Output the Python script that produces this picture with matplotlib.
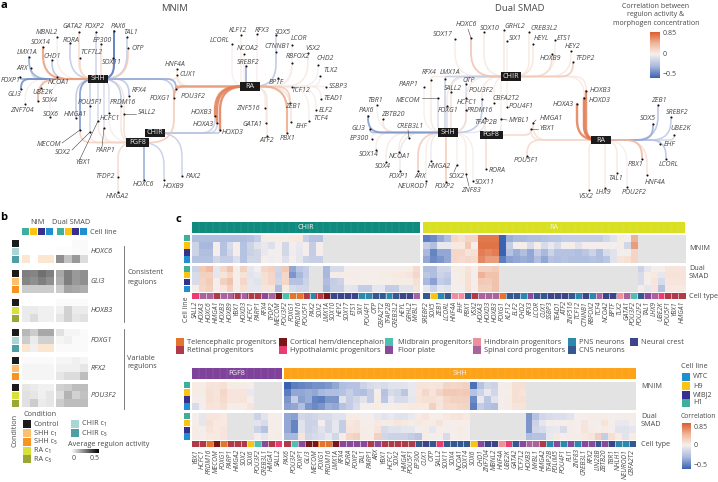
import numpy as np
import matplotlib
matplotlib.use('Agg')
import matplotlib.pyplot as plt
from matplotlib.colors import LinearSegmentedColormap, TwoSlopeNorm, ListedColormap
from matplotlib.patches import Rectangle, PathPatch
from matplotlib.path import Path

plt.rcParams['font.family'] = ['Open Sans', 'DejaVu Sans']
n = np.nan

# ---- panel a: hubs and genes, gene: (dot x, dot y, label x, label y)
mnim_hubs = {"SHH": (98, 79), "RA": (250, 86.5), "CHIR": (154.5, 133), "FGF8": (137.5, 142.5)}
mnim_nodes = {
    "MBNL2": (57, 37, 47, 32), "GATA2": (79, 32, 72, 27), "FOXP2": (96, 32, 95, 27), "PAX6": (114, 31, 118, 26),
    "TAL1": (127, 37, 131, 33), "SOX14": (43, 47, 41, 42), "RORA": (70, 43, 71, 40), "EP300": (101, 44, 102, 41),
    "OTP": (128, 48, 138, 48), "CHD1": (52, 60, 52, 56), "TCF7L2": (80, 58, 91, 53), "LMX1A": (29, 57, 27, 53),
    "SOX11": (113, 58, 112, 62), "ARX": (31, 68, 22, 68), "FOXP1": (20, 77, 11, 81), "GLI3": (21, 89, 14, 94),
    "NCOA1": (57, 77, 59, 82), "UBE2K": (41, 88, 43, 93), "SOX4": (38, 101, 50, 101), "ZNF704": (25, 104, 22, 110),
    "SOX6": (50, 117, 51, 114), "HMGA1": (76, 118, 75, 114), "POU5F1": (90, 106, 90, 102), "MECOM": (80, 130, 49, 144),
    "SOX2": (90, 132, 63, 152), "YBX1": (98, 121, 83, 162), "PARP1": (104, 128, 106, 150), "HCFC1": (109, 113, 110, 118),
    "PRDM16": (121, 106, 123, 102), "RFX4": (129, 96, 139, 91), "SALL2": (124, 114, 147, 113),
    "HNF4A": (177, 69, 175, 64), "CUX1": (177, 75, 188, 74), "FOXG1": (174, 98, 160, 99), "POU3F2": (176, 89, 193, 96),
    "HOXB3": (215, 116, 201, 112), "HOXA3": (217, 123, 203, 124), "HOXD3": (220, 130, 233, 133),
    "KLF12": (241, 35, 238, 31), "RFX3": (257, 34, 262, 30), "SOX5": (276, 35, 283, 32), "LCORL": (232, 44, 220, 41),
    "NCOA2": (244, 54, 248, 49), "CTNNB1": (276, 52, 277, 47), "SREBF2": (246, 66, 248, 62), "BPTF": (278, 78, 276, 83),
    "ZNF516": (265, 108, 248, 109), "GATA1": (266, 123, 252, 124), "ATF2": (267, 136, 267, 140), "PBX1": (287, 133, 288, 139),
    "ZEB1": (290, 103, 293, 107), "EHF": (291, 122, 302, 126), "TCF12": (292, 87, 301, 91), "LCOR": (292, 45, 299, 39),
    "RBFOX2": (292, 63, 298, 57), "VSX2": (308, 53, 313, 48), "CHD2": (318, 65, 325, 59), "TLX2": (320, 76, 331, 71),
    "SSBP3": (326, 87, 338, 86), "TEAD1": (321, 99, 333, 99), "ELF2": (316, 110, 326, 111), "TCF4": (309, 121, 321, 119),
    "TFDP2": (118, 177, 105, 177), "HMGA2": (118, 192, 117, 197), "HOXC6": (144, 180, 143, 184),
    "HOXB9": (164, 180, 173, 186), "PAX2": (182, 176, 193, 176),
}
mnim_shh = {"MBNL2": .05, "GATA2": .2, "FOXP2": -.15, "PAX6": -.45, "TAL1": -.18, "SOX14": .55, "RORA": -.18, "EP300": .2,
            "OTP": .28, "CHD1": -.22, "TCF7L2": .18, "LMX1A": -.3, "SOX11": .12, "ARX": -.12, "FOXP1": -.3, "GLI3": -.38,
            "NCOA1": .3, "UBE2K": .05, "SOX4": .45, "ZNF704": .03, "SOX6": .03, "HMGA1": -.18, "MECOM": -.35,
            "POU5F1": -.12, "SOX2": -.12, "YBX1": -.12, "PARP1": -.1, "HCFC1": -.08, "PRDM16": -.2, "RFX4": -.2,
            "SALL2": .12, "FOXG1": -.2, "POU3F2": -.3, "CUX1": .1}
mnim_fgf8 = {"MECOM": .25, "SOX2": .12, "YBX1": .1, "PARP1": .08, "HCFC1": .06, "PRDM16": .12, "SALL2": .18, "FOXG1": .3,
             "TFDP2": .12, "HMGA2": .15, "HOXC6": -.3, "HOXB9": -.15}
mnim_chir = {"HOXB3": -.15, "HOXA3": -.15, "HOXD3": -.2, "PAX2": -.15}
mnim_ra = {"HOXB3": .7, "HOXA3": .7, "HOXD3": .7, "POU3F2": .55, "FOXG1": .5, "HNF4A": .1, "CUX1": .1, "KLF12": .05,
           "RFX3": .03, "SOX5": -.15, "LCORL": .03, "NCOA2": .03, "CTNNB1": -.12, "SREBF2": -.3, "BPTF": .05, "ZNF516": .03,
           "GATA1": .03, "ATF2": .12, "PBX1": .5, "ZEB1": .3, "EHF": .15, "TCF12": .08, "LCOR": .03, "RBFOX2": .04,
           "VSX2": .1, "CHD2": .03, "TLX2": .03, "SSBP3": .04, "TEAD1": .05, "ELF2": .05, "TCF4": .05}
mnim_leaders = {"MECOM": (62, 143), "SOX2": (72, 150), "YBX1": (80, 159), "PARP1": (102, 147), "SALL2": (136, 114)}

dual_hubs = {"CHIR": (510.5, 76.5), "SHH": (447.5, 132.5), "FGF8": (491, 135), "RA": (600.5, 140)}
dual_nodes = {
    "SOX17": (455, 39, 443, 35), "HOXC6": (471, 38, 466, 25), "SOX10": (484, 32, 490, 28), "GRHL2": (504, 30, 515, 26),
    "SIX1": (507, 41, 515, 39), "CREB3L2": (529, 32, 544, 28), "HEYL": (533, 44, 541, 39), "ETS1": (555, 40, 564, 38),
    "HOXB9": (552, 54, 550, 59), "HEY2": (571, 51, 573, 46), "TFDP2": (573, 62, 585, 58), "RFX4": (431, 80, 429, 73),
    "LMX1A": (445, 79, 450, 72), "PARP1": (424, 87, 409, 85), "OTP": (466, 84, 469, 80), "SALL2": (451, 92, 453, 88),
    "POU3F2": (482, 99, 481, 91), "MECOM": (438, 98, 408, 100), "HCFC1": (466, 98, 467, 103), "CBFA2T2": (494, 103, 506, 99),
    "POU4F1": (507, 107, 521, 106), "FOXG1": (447, 106, 448, 111), "PRDM16": (466, 110, 480, 111), "TFAP2B": (485, 118, 486, 122),
    "MYBL1": (501, 119, 519, 120), "HMGA1": (533, 123, 551, 119), "YBX1": (531, 129, 547, 129), "HOXB3": (586, 91, 600, 90),
    "HOXD3": (584, 98, 600, 100), "HOXA3": (577, 104, 563, 104), "TBR1": (377, 105, 375, 100), "PAX6": (368, 116, 366, 111),
    "ZBTB20": (383, 119, 393, 114), "CREB3L1": (409, 138, 410, 126), "GLI3": (370, 129, 358, 128), "EP300": (372, 139, 359, 139),
    "SOX14": (376, 150, 369, 155), "NCOA1": (399, 152, 400, 156), "SOX4": (386, 162, 383, 167), "HMGA2": (431, 161, 439, 166),
    "SOX2": (457, 165, 457, 177), "FOXP1": (400, 171, 399, 176), "ARX": (418, 171, 420, 176), "NEUROD1": (426, 181, 413, 187),
    "FOXP2": (446, 182, 445, 187), "ZNF83": (466, 174, 471, 191), "SOX11": (473, 181, 485, 183), "RORA": (486, 169, 497, 171),
    "POU5F1": (527, 156, 526, 161), "VSX2": (589, 190, 586, 196), "LHX9": (605, 188, 604, 192), "TAL1": (617, 173, 616, 178),
    "POU2F2": (627, 187, 634, 192), "PBX1": (642, 159, 636, 164), "HNF4A": (647, 175, 655, 182), "LCORL": (666, 159, 669, 164),
    "EHF": (660, 144, 670, 144), "UBE2K": (674, 135, 681, 129), "SOX5": (653, 124, 648, 119), "SREBF2": (671, 117, 677, 112),
    "ZEB1": (658, 105, 659, 100),
}
dual_chir = {"SOX17": .08, "HOXC6": .35, "SOX10": .1, "GRHL2": .1, "SIX1": .03, "CREB3L2": .1, "HEYL": .12, "ETS1": .05,
             "HOXB9": .2, "HEY2": .1, "TFDP2": .3, "RFX4": .1, "LMX1A": -.15, "OTP": -.12, "SALL2": -.1, "POU3F2": .1,
             "HOXB3": .1, "HOXD3": .08, "CBFA2T2": .03, "POU4F1": .03, "PRDM16": .1, "FOXG1": .1, "MYBL1": .03}
dual_shh = {"RFX4": .1, "LMX1A": -.15, "PARP1": .04, "OTP": -.1, "SALL2": .15, "POU3F2": -.2, "MECOM": -.1, "HCFC1": .12,
            "FOXG1": -.1, "PRDM16": .15, "TFAP2B": -.05, "TBR1": .04, "PAX6": -.35, "ZBTB20": .15, "CREB3L1": .03,
            "GLI3": -.25, "EP300": .02, "SOX14": .08, "NCOA1": .1, "SOX4": .08, "HMGA2": -.03, "SOX2": .05, "FOXP1": -.04,
            "ARX": .3, "NEUROD1": .05, "FOXP2": .3, "ZNF83": .08, "SOX11": .05}
dual_fgf8 = {"HMGA1": .15, "YBX1": .15, "MYBL1": -.03, "RORA": .2, "TFAP2B": .1}
dual_ra = {"HMGA1": .15, "YBX1": .15, "POU5F1": .2, "HOXB3": .7, "HOXD3": .75, "HOXA3": .7, "VSX2": .1, "LHX9": .08,
           "TAL1": .1, "POU2F2": .03, "PBX1": .4, "HNF4A": .15, "LCORL": -.2, "EHF": -.1, "UBE2K": -.12, "SOX5": -.3,
           "SREBF2": -.18, "ZEB1": -.22}
dual_leaders = {"MECOM": (422, 98), "HOXC6": (468, 29), "CREB3L1": (408, 130), "SOX2": (454, 172), "ZNF83": (469, 186),
                "MYBL1": (507, 120), "HMGA1": (536, 120), "YBX1": (538, 129)}

# ---- panel b: average regulon activity, rows are conditions, columns cell lines
b_genes = ["HOXC6", "GLI3", "HOXB3", "FOXG1", "RFX2", "POU3F2"]
b_nim = [
    [[0, 0, 0, 0], [0, 0, 0, 0], [n, 0, n, n]],
    [[.25, .24, .28, .25], [.24, .22, .25, .22], [.1, .1, .1, .1]],
    [[0, 0, 0, 0], [.04, .04, .03, .03], [.04, .07, .03, .03]],
    [[.14, .1, .17, .17], [.1, .04, .09, .09], [n, .03, n, n]],
    [[.01, .01, .01, .01], [.02, .02, .02, .02], [.02, .02, .02, .02]],
    [[.05, .04, .03, .03], [.06, .05, .03, .05], [.06, .1, .04, .05]],
]
b_dual = [
    [[0, 0, .01, .01], [.005, .005, .01, .01], [.22, .12, .2, .07]],
    [[.17, .25, .2, .22], [.16, .25, .2, .22], [.1, .18, .17, .16]],
    [[.01, .01, .01, .01], [.03, .09, .04, .04], [.05, .09, .05, .06]],
    [[.06, .02, .02, .01], [.02, .03, .01, .01], [.01, .01, .01, .01]],
    [[.02, .02, .03, .02], [.03, .03, .03, .05], [.05, .07, .07, .13]],
    [[.09, .1, .13, .13], [.07, .15, .09, .12], [.1, .13, .13, .13]],
]
chir_strip = ["#1c1a1b", "#a9d6d4", "#4f9ea5"]
shh_strip = ["#1c1a1b", "#fcbf6e", "#f7931e"]
ra_strip = ["#1c1a1b", "#d8e03c", "#9aa833"]
b_strips = [chir_strip, shh_strip, ra_strip, chir_strip, shh_strip, ra_strip]

# ---- panel c: correlation per regulon
chir_genes = ["SALL2", "HOXA3", "HOXC6", "HMGA1", "HOXB3", "HOXB9", "YBX1", "HOXD3", "HCFC1", "PARP1", "RFX4", "TFDP2",
              "MECOM", "POU3F2", "FOXG1", "PRDM16", "POU5F1", "PAX2", "SOX2", "LMX1A", "SOX10", "HEY2", "SOX17", "ETS1",
              "SIX1", "POU4F1", "OTP", "CBFA2T2", "TFAP2B", "CREB3L2", "HEYL", "GRHL2", "MYBL1"]
chir_types = "YSSRSSRSRRFSCMTTRPRCEEEEPPNNPNEES"
chir_mnim = [
    [-.22, -.22, -.22, -.22, -.22, -.22, -.22, -.22, -.2, -.15, .05, .05, .05, .05, .07, .08, -.14, -.2, -.2] + [n] * 14,
    [-.12, -.25, -.25, .02, -.2, -.08, .02, -.2, -.12, -.05, -.02, -.06, .02, -.1, .02, -.02, .03, -.15, .03] + [n] * 14,
    [-.12, -.22, -.22, .02, -.2, -.1, .02, -.2, -.13, -.1, -.02, .01, .01, -.1, -.01, -.03, .03, -.15, .03] + [n] * 14,
    [-.2, -.2, -.2, -.1, -.15, -.15, -.06, -.2, -.1, -.1, .02, -.01, .02, -.06, .03, -.03, -.12, -.14, -.14] + [n] * 14,
]
chir_dual = [
    [-.12, .3, .4, -.03, .2, .35, .03, .25, -.03, .01, .2, .25, -.1, .3, -.3, -.18, -.15, n, n, -.25, -.08, -.08, .02, .02, .02, .02, .02, .02, .02, .03, .03, .05, .18],
    [-.08, .25, .25, -.03, .12, .2, .03, .13, -.04, -.02, .15, .2, -.12, .2, -.35, -.25, -.15, n, n, -.25, .04, .04, .04, .04, .03, .03, .03, .05, .05, .08, .08, .1, .2],
    [-.08, .22, .28, .02, .25, .35, .03, .2, -.03, -.05, .15, .2, -.1, .2, -.2, -.2, -.12, n, n, -.22, -.15, -.12, .03, .03, .03, .02, .03, .03, .03, .05, .05, .05, .15],
    [.02, .2, .25, .02, .1, .25, .02, .15, -.03, -.03, .1, .1, -.22, .05, -.08, -.1, -.1, n, n, -.25, -.14, -.14, -.03, -.04, -.15, -.15, -.03, -.03, -.15, -.15, -.05, -.05, .12],
]
ra_genes = ["SREBF2", "SOX5", "ZEB1", "LCORL", "HNF4A", "EHF", "PBX1", "VSX2", "HOXA3", "HOXD3", "HOXB3", "FOXG1", "KLF12",
            "ELF2", "CHD2", "RFX3", "LCOR", "CUX1", "SSBP3", "TEAD1", "ATF2", "ZNF516", "TCF12", "CTNNB1", "RBFOX2", "TCF4",
            "NCOA2", "BPTF", "TLX2", "GATA1", "POU3F2", "POU2F2", "TAL1", "LHX9", "UBE2K", "POU5F1", "YBX1", "HMGA1"]
ra_types = "NGPNBBNRSSSTNNPFNNEEENPEPSEEBSMNFSYRRR"
ra_mnim = [
    [-.42, -.38, -.3, -.22, .2, .15, .22, .22, .72, .72, .72, -.5, -.28, -.25, -.25, -.22, -.22, -.2, -.18, -.18, -.15, -.15, -.15, -.15, -.15, -.15, -.1, -.05, .05, .02, .45] + [n] * 7,
    [-.15, -.22, -.02, -.02, .08, .08, .3, .02, .75, .75, .75, -.5, -.15, .03, .03, -.08, .03, -.08, -.02, -.08, .01, .02, -.05, .02, .01, .02, .01, .01, .05, -.1, .55] + [n] * 7,
    [-.25, -.4, -.3, -.3, .2, .2, .12, .15, .7, .65, .7, -.5, -.2, -.28, -.22, -.3, -.15, -.25, -.12, -.2, -.2, -.2, -.22, -.18, -.12, -.22, -.08, -.05, .01, .02, .22] + [n] * 7,
    [-.3, -.38, -.35, -.3, .2, .18, .2, .18, .65, .55, .55, -.42, -.32, -.3, -.28, -.3, -.22, -.3, -.2, -.22, -.2, -.22, -.22, -.22, -.2, -.22, -.18, -.05, .12, .15, .22] + [n] * 7,
]
ra_dual = [
    [-.22, -.22, -.1, -.1, .05, .05, .12, .03, .25, .25, .28] + [n] * 20 + [-.12, -.03, .03, .03, .1, .1, .1],
    [-.18, -.22, -.12, -.15, .03, .05, .15, .01, .45, .35, .35] + [n] * 20 + [-.08, .05, .08, -.03, .13, .13, .12],
    [-.25, -.32, -.15, -.18, .02, .05, .15, .02, .3, .28, .35] + [n] * 20 + [-.08, .03, .1, -.08, .1, .1, .1],
    [-.03, -.12, -.03, -.05, .01, .01, .15, .02, .25, .25, .35] + [n] * 20 + [.04, -.03, .1, -.2, .08, .08, .08],
]
fgf8_genes = ["YBX1", "HCFC1", "PRDM16", "MECOM", "FOXG1", "PARP1", "HMGA2", "SOX2", "SOX6", "POU3F2", "CREB3L1", "HMGA1", "SALL2"]
fgf8_types = "RRTCTRRRGMFRY"
fgf8_mnim = [
    [.06, .04, .12, .12, .15, .05, .05, .04, .03, n, n, n, n],
    [.06, .05, .15, .1, .2, .1, .1, .1, -.02, n, n, n, n],
    [.03, .03, .15, .12, .18, .1, .1, .12, .02, n, n, n, n],
    [-.08, .02, .12, .1, .15, .03, .05, .06, .12, n, n, n, n],
]
fgf8_dual = [
    [.03, -.03, .1, .1, .08, n, n, n, n, -.12, -.04, .03, .02],
    [.03, -.03, .15, .08, .08, n, n, n, n, -.04, -.08, .03, .03],
    [.05, .03, .12, .08, .1, n, n, n, n, -.12, -.2, .02, .03],
    [.04, .02, .08, .08, .1, n, n, n, n, .02, -.03, .03, .05],
]
shh_genes = ["PAX6", "POU3F2", "FOXP1", "GLI3", "MECOM", "FOXG1", "PRDM16", "LMX1A", "RFX4", "RORA", "FOXP2", "TAL1", "PARP1",
             "ARX", "YBX1", "HCFC1", "SOX2", "HMGA1", "POU5F1", "EP300", "CUX1", "OTP", "SALL2", "SOX11", "SOX4", "NCOA1",
             "SOX14", "SOX6", "CHD1", "ZNF704", "MBNL2", "HNF4A", "UBE2K", "GATA2", "TCF7L2", "HOXB3", "MYBL1", "HMGA2",
             "TFAP2B", "PDLIM5", "POU4F1", "FLI1", "ZNF83", "CREB3L1", "RFX2", "LIN28B", "ZBTB20", "TBR1", "NHLH1", "NEUROD1", "CBFA2T2"]
shh_types = "RMFCCTTCFFFFRFRRRRRNENYNNNNGFEEBYNFSSRPFPFPFFNFEPPN"
shh_mnim = [
    [-.5, -.42, -.4, -.38, -.36, -.36, -.34, -.3, -.22, -.2, -.2, -.12, -.08, -.06, -.08, -.05, -.05, -.04, -.02, .12, .12, .1, .12, .22, .2, .22, .25, -.45, -.2, -.1, -.12, .03, .05, .15, .15] + [n] * 16,
    [-.42, -.3, -.3, -.28, -.3, -.25, -.22, -.22, -.2, -.14, -.2, -.22, -.15, .02, -.2, -.08, -.1, -.18, -.02, .1, .2, .12, .22, .3, .3, .28, .3, -.2, -.12, -.02, -.1, .02, .03, .15, .12] + [n] * 16,
    [-.35, -.15, -.32, -.28, -.4, -.42, -.35, -.35, -.05, -.15, -.1, -.05, -.15, .05, -.18, -.02, -.08, -.08, -.03, .12, .15, .15, .1, .2, .25, .25, .25, -.38, -.02, -.18, -.05, .02, .05, .15, .15] + [n] * 16,
    [-.32, -.3, -.22, -.35, -.38, -.35, -.28, -.3, -.2, -.15, -.08, .03, .03, .05, .03, .03, .05, .06, .08, .08, .08, .25, .1, .18, .18, .2, .22, -.42, -.15, -.2, -.22, .03, .05, .12, .12] + [n] * 16,
]
shh_dual = [
    [-.3, -.32, -.1, -.12, -.1, -.08, -.08, -.05, -.05, .05, .06, .01, .03, -.02, -.04, -.02, -.05, -.05, -.02, .07, .1, .03, .03, .08, .1, .12, .08] + [n] * 8 + [-.35, -.2, -.1, -.08, -.07, -.07, -.05, .02, .03, .05, .05, .05, .02, .02, .04, .05],
    [-.3, -.4, -.05, -.12, -.12, .02, -.1, -.03, -.15, .08, .12, .03, .02, .08, .05, .07, .1, .08, .05, .08, .06, .06, .12, .03, .03, .03, .03] + [n] * 8 + [-.35, -.12, -.03, .03, .03, .03, .04, .02, .1, .03, .02, .12, .03, -.02, -.02, .02],
    [-.3, -.4, -.05, -.12, -.1, -.05, -.1, -.03, -.15, .1, .12, .05, .03, .1, -.08, -.05, -.05, -.03, -.03, .01, .05, -.03, .02, .02, .02, .07, .02] + [n] * 8 + [-.35, -.1, -.08, -.03, -.02, -.08, .04, .02, .12, .04, .03, .06, .03, -.05, -.05, -.03],
    [-.25, -.25, .1, -.1, -.08, -.07, -.02, -.1, .06, .2, .25, .05, .04, .25, -.1, -.12, -.12, -.12, -.15, -.18, .05, .03, .03, -.08, .03, .05, .03] + [n] * 8 + [-.22, -.2, -.2, -.02, .08, .02, .04, .05, .08, .1, .25, -.15, .15, .06, -.04, .06],
]

type_colors = {"T": "#e4752f", "R": "#b03a48", "C": "#7b1518", "Y": "#ea3c70", "M": "#4fbfb0", "B": "#ef8f9c", "F": "#8a4a9b",
               "S": "#a9649e", "P": "#2a89ac", "N": "#34588f", "E": "#3d4589", "G": "#f9c416"}
type_names = [("T", "Telencephalic progenitors"), ("R", "Retinal progenitors"), ("C", "Cortical hem/diencephalon"),
              ("Y", "Hypothalamic progenitors"), ("M", "Midbrain progenitors"), ("F", "Floor plate"),
              ("B", "Hindbrain progenitors"), ("S", "Spinal cord progenitors"), ("P", "PNS neurons"), ("N", "CNS neurons"),
              ("E", "Neural crest")]
line_colors = ["#3fae9a", "#fcc30f", "#36308f", "#1f8fd0"]
line_names = ["WTC", "H9", "WIBJ2", "H1"]

TXT = "#484848"
cmap = LinearSegmentedColormap.from_list("corr", [(0, "#3a62b0"), (.25, "#a9b9de"), (.47, "#e6e6ee"), (.5, "#f2efef"),
                                                  (.54, "#f8ebe4"), (.75, "#f0b89e"), (1, "#dc5f2e")])
cmap.set_bad("#e3e3e3")
norm = TwoSlopeNorm(vmin=-.5, vcenter=0, vmax=.85)
gray = LinearSegmentedColormap.from_list("act", ["#ffffff", "#000000"])
gray.set_bad("#fbe6d2")

fig = plt.figure(figsize=(7.18, 4.82), dpi=100)
W, H = 718, 482


def px_axes(x0, y0, x1, y1):
    ax = fig.add_axes([x0 / W, 1 - y1 / H, (x1 - x0) / W, (y1 - y0) / H])
    ax.set_xticks([])
    ax.set_yticks([])
    for s in ax.spines.values():
        s.set_visible(False)
    return ax


main = px_axes(0, 0, W, H)
main.set_xlim(0, W)
main.set_ylim(H, 0)


def label(x, y, s, size=5.2, **kw):
    kw.setdefault('ha', 'center')
    kw.setdefault('va', 'center')
    kw.setdefault('color', TXT)
    main.text(x, y, s, fontsize=size, **kw)


def swatch(x0, y0, x1, y1, c):
    main.add_patch(Rectangle((x0, y0), x1 - x0, y1 - y0, fc=c, ec='none'))


def edge(nx, ny, hx, hy, corr):
    dx, dy = hx - nx, hy - ny
    r = min(abs(dx), abs(dy), 28) * .85
    sx, sy = np.sign(dx), np.sign(dy)
    verts = [(nx, ny), (nx, hy - sy * r), (nx, hy), (nx + sx * r, hy), (hx, hy)]
    codes = [Path.MOVETO, Path.LINETO, Path.CURVE3, Path.CURVE3, Path.LINETO]
    main.add_patch(PathPatch(Path(verts, codes), fc='none', ec=cmap(norm(corr)), lw=.95 + 1.1 * abs(corr), alpha=.85,
                             capstyle='round', zorder=2 + abs(corr)))


def network(nodes, hubs, edges, leaders):
    for hub, genes in edges.items():
        hx, hy = hubs[hub]
        for g, corr in genes.items():
            edge(nodes[g][0], nodes[g][1], hx, hy, corr)
    for g, (x, y, lx, ly) in nodes.items():
        main.plot(x, y, 'o', ms=1.5, color='#111111', mew=0, zorder=5)
        label(lx, ly, g, size=5, style='italic', zorder=6)
    for g, (ex, ey) in leaders.items():
        main.plot([nodes[g][0], ex], [nodes[g][1], ey], color='#444444', lw=.4, zorder=4)
    for hub, (x, y) in hubs.items():
        w = 11.5 if hub == "FGF8" else 10
        main.add_patch(Rectangle((x - w, y - 4.2), 2 * w, 8.4, fc='#1c1a1b', ec='none', zorder=7))
        label(x, y, hub, size=5.2, color='#eeeeee', zorder=8)


network(mnim_nodes, mnim_hubs, {"SHH": mnim_shh, "FGF8": mnim_fgf8, "CHIR": mnim_chir, "RA": mnim_ra}, mnim_leaders)
network(dual_nodes, dual_hubs, {"CHIR": dual_chir, "SHH": dual_shh, "FGF8": dual_fgf8, "RA": dual_ra}, dual_leaders)

label(4, 6, "a", size=8, weight='bold', color='black')
label(4, 218, "b", size=8, weight='bold', color='black')
label(178, 219, "c", size=8, weight='bold', color='black')
label(175, 8.5, "MNIM", size=6.8)
label(520, 8.5, "Dual SMAD", size=6.8)
label(656, 6.5, "Correlation between", size=5)
label(656, 15, "regulon activity &", size=5)
label(656, 23.5, "morphogen concentration", size=5)


def colorbar(x0, y0, x1, y1, ticks):
    ax = px_axes(x0, y0, x1, y1)
    ax.imshow(np.linspace(0, 1, 128).reshape(-1, 1), cmap=cmap, origin='lower', aspect='auto', extent=[0, 1, 0, 1])
    for val, t in ticks:
        label(x1 + 3, y1 - (y1 - y0) * val, t, size=5, ha='left')


colorbar(650, 32, 660, 78, [(.96, "0.85"), (.52, "0"), (.07, "\u22120.5")])
colorbar(682, 423, 691, 469, [(.91, "0.85"), (.52, "0"), (.07, "\u22120.5")])

# ---- panel b
label(37, 223, "NIM", size=5.2)
label(71, 223, "Dual SMAD", size=5.2)
label(103, 232, "Cell line", size=5.2)
for j, c in enumerate(line_colors):
    swatch(22 + 7.9 * j, 228, 29 + 7.9 * j, 235, c)
    swatch(57 + 7.7 * j, 228, 64 + 7.7 * j, 235, c)
b_tops = [240, 270, 299, 329, 357, 384]
for i, g in enumerate(b_genes):
    top = b_tops[i]
    for ax, vals in ((px_axes(21.7, top, 52.7, top + 23.5), b_nim[i]), (px_axes(55.7, top, 87.3, top + 23.5), b_dual[i])):
        ax.imshow(vals, cmap=gray, vmin=0, vmax=.5, aspect='auto', interpolation='nearest')
    for k, c in enumerate(b_strips[i]):
        swatch(12, top + k * 8, 19, top + k * 8 + 7.3, c)
    label(90.5, top + 11.5, g, ha='left', style='italic', size=5.2)
main.plot([123.5, 123.5], [246, 322], color='#666666', lw=.6)
main.plot([123.5, 123.5], [329, 409], color='#666666', lw=.6)
label(127, 273, "Consistent", ha='left', size=5.2)
label(127, 282, "regulons", ha='left', size=5.2)
label(127, 358, "Variable", ha='left', size=5.2)
label(127, 366, "regulons", ha='left', size=5.2)
label(15, 430, "Condition", rotation=90, size=5.2)
label(23, 414, "Condition", ha='left', size=5.2)
for y, c, t in [(420, "#1c1a1b", "Control"), (429, "#fcbf6e", "SHH c\u2081"), (438, "#f7931e", "SHH c\u2085"),
                (446.5, "#d8e03c", "RA c\u2081"), (455, "#9aa833", "RA c\u2085")]:
    swatch(23, y, 31, y + 8, c)
    label(34, y + 4, t, ha='left', size=5.2)
for y, c, t in [(420, "#a9d6d4", "CHIR c\u2081"), (429, "#4f9ea5", "CHIR c\u2085")]:
    swatch(71, y, 79, y + 8, c)
    label(82, y + 4, t, ha='left', size=5.2)
label(68, 444, "Average regulon activity", ha='left', size=5.2)
ax = px_axes(71, 449, 99, 453)
ax.imshow(np.linspace(0, 1, 64).reshape(1, -1), cmap=gray, aspect='auto')
label(74, 459, "0", size=5)
label(95, 459, "0.5", size=5)


# ---- panel c
def panel(x0, name, color, genes, types, mnim, dual, y_bar, y_m, y_d, y_t):
    x1 = x0 + 6.9 * len(genes)
    ax = px_axes(x0, y_bar[0], x1, y_bar[1])
    ax.set_facecolor(color)
    ax.set_xlim(0, len(genes))
    ax.vlines(range(1, len(genes)), 0, 1, color='white', lw=.25, alpha=.25)
    ax.set_ylim(0, 1)
    ax.text(.5, .47, name, transform=ax.transAxes, color='#f4f4f4', fontsize=5.2, ha='center', va='center')
    for vals, (y0, y1) in ((mnim, y_m), (dual, y_d)):
        ax = px_axes(x0, y0, x1, y1)
        ax.imshow(np.array(vals), cmap=cmap, norm=norm, aspect='auto', interpolation='nearest')
    ax = px_axes(x0, y_t[0], x1, y_t[1])
    ax.imshow(np.arange(len(types)).reshape(1, -1), cmap=ListedColormap([type_colors[t] for t in types]), aspect='auto')
    ax.vlines(np.arange(len(types) - 1) + .5, -.5, .5, color='white', lw=.4)
    ax.set_xticks(range(len(genes)))
    ax.set_xticklabels(genes, rotation=90, style='italic', fontsize=4.9, color=TXT)
    ax.tick_params(length=0, pad=1.5)


upper = ((222, 232.7), (235, 263), (265.5, 292), (293, 299))
lower = ((368, 379), (382, 410), (413, 440), (441, 447))
panel(192.3, "CHIR", "#0f8a7e", chir_genes, chir_types, chir_mnim, chir_dual, *upper)
panel(423, "RA", "#d8e021", ra_genes, ra_types, ra_mnim, ra_dual, *upper)
panel(192.3, "FGF8", "#7f429b", fgf8_genes, fgf8_types, fgf8_mnim, fgf8_dual, *lower)
panel(284, "SHH", "#fca31a", shh_genes, shh_types, shh_mnim, shh_dual, *lower)

for y_m, y_d in ((235, 265.5), (382, 413)):
    for j, c in enumerate(line_colors):
        swatch(184, y_m + j * 7.1, 190, y_m + j * 7.1 + 6.4, c)
        swatch(184, y_d + j * 6.8, 190, y_d + j * 6.8 + 6.1, c)
label(187, 309, "Cell line", rotation=90, size=5)

for x, yy in ((689, (249, 268, 276, 296)), (641, (387, 416, 424, 444))):
    for y, t in zip(yy, ("MNIM", "Dual", "SMAD", "Cell type")):
        label(x, y, t, ha='left', size=5.2)

leg_x = [176, 176, 279, 279, 385, 385, 473, 473, 568, 568, 630]
leg_y = [342, 350, 342, 350, 342, 350, 342, 350, 342, 350, 342]
leg_tx = [187, 187, 290, 290, 398, 398, 484, 484, 579, 579, 641]
for (key, name), x, y, tx in zip(type_names, leg_x, leg_y, leg_tx):
    swatch(x, y - 3.7, x + 7.5, y + 3.7, type_colors[key])
    label(tx, y, name, ha='left', size=5.4)

label(681, 366, "Cell line", ha='left', size=5.2)
for y, c, t in zip((377, 386, 395, 403), ("#1f8fd0", "#fcc30f", "#36308f", "#3fae9a"), line_names):
    swatch(682, y - 3.7, 690, y + 3.7, c)
    label(693, y, t, ha='left', size=5.2)
label(681, 416, "Correlation", ha='left', size=4.9)

fig.savefig('out.png', dpi=100)
